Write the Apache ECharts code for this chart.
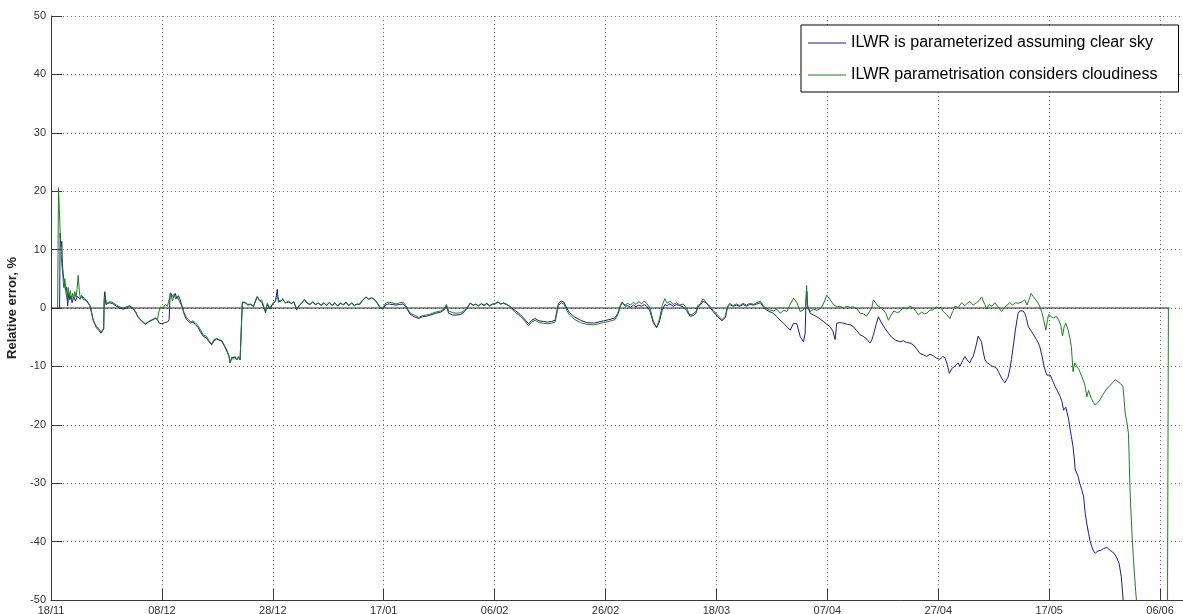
<!DOCTYPE html>
<html>
<head>
<meta charset="utf-8">
<script src="https://cdn.jsdelivr.net/npm/echarts@6/dist/echarts.min.js"></script>
<style>
  html, body { margin: 0; padding: 0; background: #fff; }
  #chart { width: 1183px; height: 614px; }
</style>
</head>
<body>
<div id="chart"></div>
<script>
// x values are days counted from 18/11; a tick every 20 days
const dateLabels = ['18/11', '08/12', '28/12', '17/01', '06/02', '26/02', '18/03', '07/04', '27/04', '17/05', '06/06'];

const seriesNames = ['ILWR is parameterized assuming clear sky', 'ILWR parametrisation considers cloudiness'];

// relative error (%) with ILWR parameterized for clear sky: [day, value]
const clearSkyErr = [
  [1.55, 0], [1.65, 12.8], [1.8, 10.5], [1.95, 11.4], [2.05, 7.6], [2.2, 5.8], [2.4, 5.6], [2.6, 3.1], [2.8, 3.6],
  [3.0, 0.4], [3.2, 2.6], [3.4, 1.4], [3.6, 2.1], [3.8, 0.9], [4.1, 1.9], [4.4, 1.2], [4.8, 2.0], [5.2, 1.5],
  [5.6, 2.0], [6.1, 1.6], [6.5, 1.1], [7.0, 0.4], [7.3, -0.8], [7.6, -2.1], [7.9, -2.8], [8.2, -3.4], [8.6, -3.8],
  [9.0, -4.3], [9.3, -4.6], [9.5, -3.6], [9.6, 1.8], [9.7, 2.8], [9.9, 0.6], [10.6, 0.9], [11.2, 0.7], [11.8, 0.3],
  [12.4, 0], [13.0, -0.2], [13.6, 0], [14.2, 0.3], [14.8, -0.1], [15.3, -0.8], [15.7, -1.6], [16.3, -2.2],
  [17.0, -2.8], [17.6, -2.4], [18.2, -2.1], [18.8, -1.8], [19.2, -2.0], [19.5, -2.6], [20.0, -2.7], [20.5, -2.5],
  [21.0, -2.4], [21.3, -2.0], [21.5, 2.6], [21.8, 2.9], [22.1, 1.8], [22.4, 2.5], [22.7, 1.6], [23.0, 2.1],
  [23.3, 1.4], [23.7, 0.0], [24.0, -1.0], [24.4, -1.9], [24.8, -2.3], [25.2, -2.6], [25.6, -2.4], [26.0, -2.8],
  [26.5, -3.3], [27.0, -4.2], [27.5, -4.9], [28.0, -5.1], [28.5, -5.8], [29.0, -6.3], [29.4, -5.6], [29.9, -5.3],
  [30.3, -5.5], [30.8, -5.7], [31.3, -6.6], [31.8, -7.6], [32.1, -8.3], [32.3, -9.4], [32.6, -8.5], [32.9, -8.8],
  [33.2, -8.4], [33.5, -8.9], [33.8, -8.4], [34.1, -8.9], [34.3, -8.7], [34.5, 0.9], [35.0, 0.9], [35.5, 0.5],
  [36.0, 0.6], [36.5, 0.3], [36.9, 1.2], [37.2, 1.9], [37.6, 1.3], [38.0, 1.0], [38.4, 0.0], [38.7, -0.8],
  [39.0, 0.6], [39.5, -0.2], [40.0, 0.7], [40.5, 1.2], [40.8, 3.2], [41.0, 1.0], [41.3, 1.3], [41.8, 1.4],
  [42.3, 0.9], [42.8, 1.0], [43.3, 0.8], [43.8, 1.0], [44.3, -0.3], [44.8, 0.5], [45.2, 0.8], [45.7, 1.4],
  [46.2, 0.8], [46.7, 0.6], [47.2, 1.1], [47.7, 0.6], [48.2, 0.8], [48.7, 0.5], [49.2, 0.9], [49.7, 0.4],
  [50.2, 0.9], [50.7, 0.5], [51.2, 0.9], [51.7, 0.3], [52.2, 0.8], [52.7, 0.6], [53.2, 1.0], [53.7, 0.4],
  [54.2, 0.9], [54.7, 0.5], [55.2, 0.6], [55.7, 0.7], [56.2, 1.4], [56.8, 1.9], [57.3, 1.5], [57.8, 1.8],
  [58.4, 1.4], [58.9, 0.7], [59.3, 0.1], [59.8, -0.2], [60.3, 0.5], [60.8, 0.7], [61.5, 0.6], [62.2, 0.5],
  [62.9, 0.6], [63.5, 0.7], [64.0, 0.2], [64.4, -0.5], [64.8, -1.1], [65.5, -1.5], [66.3, -1.8], [67.0, -1.5],
  [67.7, -1.4], [68.5, -1.2], [69.4, -0.9], [70.3, -0.7], [70.9, -0.3], [71.3, 0.4], [71.7, -0.9], [72.4, -1.2],
  [73.2, -1.2], [73.9, -1.1], [74.6, -0.6], [75.2, 0.2], [75.6, 0.8], [76.1, 0.5], [76.6, 0.6], [77.1, 0.4],
  [77.6, 0.7], [78.1, 0.5], [78.6, 0.8], [79.1, 0.4], [79.6, 0.7], [80.1, 0.7], [80.6, 1.0], [81.1, 0.7],
  [81.6, 0.8], [82.1, 0.6], [82.6, 0.4], [83.1, 0], [83.8, -0.5], [84.6, -1.1], [85.4, -1.9], [86.1, -2.7],
  [86.7, -2.1], [87.3, -1.8], [88.0, -2.2], [88.8, -2.3], [89.5, -2.4], [90.3, -2.3], [90.9, -2.1], [91.2, -0.6],
  [91.5, 0.7], [92.0, 1.2], [92.5, 1.0], [93.0, 0], [93.5, -0.8], [94.5, -1.6], [95.5, -2.1], [96.6, -2.5],
  [97.8, -2.6], [98.8, -2.4], [99.6, -2.2], [100.6, -2.0], [101.7, -1.7], [102.2, -0.9], [102.7, 0.5], [103.0, 1.0],
  [103.5, 0.3], [104.0, 0.4], [104.5, 0.1], [105.0, 0.5], [105.5, 0.2], [106.0, 0.5], [106.5, 0.3], [107.0, 0.6],
  [107.4, 0.3], [108.0, -0.5], [108.6, -2.5], [109.2, -3.4], [109.7, -2.4], [110.2, -0.4], [110.7, 0.6],
  [111.1, 0.4], [111.6, 0.7], [112.2, 0.3], [112.8, 0.6], [113.4, 0.4], [114.0, 0.2], [114.6, -0.4],
  [115.2, -1.4], [115.8, -1.3], [116.3, -0.9], [116.6, 0.1], [117.1, 0.5], [117.6, 1.2], [118.2, 0.8],
  [118.8, 0.1], [119.4, -0.6], [120.2, -1.5], [121.0, -2.2], [121.6, -1.6], [122.0, 0.1], [122.4, 0.6],
  [123.0, 0.3], [123.6, 0.5], [124.2, 0.3], [124.8, 0.6], [125.4, 0.3], [126.0, 0.6], [126.7, 0.5], [127.3, 0.7],
  [127.9, 0.9], [128.4, 0.3], [128.8, -0.2], [129.5, -0.6], [130.3, -0.9], [130.9, -1.5], [131.5, -2.1],
  [132.1, -2.6], [132.7, -3.2], [133.3, -3.8], [133.9, -2.6], [134.5, -2.7], [135.1, -4.9], [135.7, -5.8],
  [136.0, -4.3], [136.15, 1.4], [136.3, 2.8], [136.45, 0.2], [136.9, -0.9], [137.5, -1.2], [138.1, -1.5],
  [138.7, -1.9], [139.3, -2.3], [139.9, -2.8], [140.5, -3.2], [141.0, -4.0], [141.4, -5.4], [141.7, -2.6],
  [142.3, -2.5], [142.9, -2.6], [143.6, -2.8], [144.2, -2.9], [144.7, -3.2], [145.3, -3.9], [145.9, -4.6],
  [146.4, -4.8], [146.8, -5.1], [147.2, -5.4], [147.7, -6.0], [148.0, -5.5], [148.3, -4.6], [148.8, -2.8],
  [149.2, -1.5], [149.8, -2.6], [150.4, -3.5], [151.0, -4.3], [151.6, -5.0], [152.3, -5.5], [153.1, -5.8],
  [153.7, -5.6], [154.3, -5.9], [154.9, -6.0], [155.5, -6.3], [156.1, -7.0], [156.7, -7.8], [157.3, -8.0],
  [157.9, -8.3], [158.5, -7.9], [159.1, -8.2], [159.7, -8.6], [160.3, -8.8], [160.8, -8.3], [161.2, -8.5],
  [161.6, -9.6], [162.0, -11.2], [162.4, -10.4], [162.7, -10.1], [163.2, -9.8], [163.6, -9.4], [163.9, -10.0],
  [164.4, -9.0], [164.8, -8.3], [165.2, -8.9], [165.7, -9.4], [166.0, -8.7], [166.3, -8.3], [166.8, -6.5],
  [167.2, -4.8], [167.5, -5.3], [167.8, -5.8], [168.1, -7.5], [168.4, -8.8], [168.8, -9.4], [169.2, -9.6],
  [169.6, -9.9], [170.1, -10.1], [170.5, -10.3], [170.9, -11.0], [171.3, -11.8], [171.7, -12.4], [172.0, -12.8],
  [172.3, -12.5], [172.6, -11.8], [172.9, -10.5], [173.2, -8.8], [173.6, -6.0], [173.9, -3.8], [174.2, -2.0],
  [174.4, -0.9], [174.7, -0.5], [175.0, -0.3], [175.3, -0.5], [175.6, -0.9], [175.9, -1.8], [176.2, -3.1],
  [176.5, -3.6], [176.8, -4.0], [177.2, -4.6], [177.7, -5.4], [178.0, -5.9], [178.3, -6.6], [178.7, -8.2],
  [179.1, -10.1], [179.4, -11.0], [179.6, -11.5], [180.2, -11.5], [180.6, -12.4], [181.1, -13.5], [181.5, -14.2],
  [182.0, -15.2], [182.3, -16.0], [182.6, -17.5], [183.0, -17.0], [183.2, -17.2], [183.5, -19.0], [183.8, -20.9],
  [184.0, -22.0], [184.3, -23.7], [184.5, -25.5], [184.7, -27.7], [184.9, -27.4], [185.2, -28.8], [185.5, -30.0],
  [185.9, -31.2], [186.2, -32.2], [186.5, -35.2], [186.8, -37.0], [187.1, -38.6], [187.4, -40.0], [187.7, -40.9],
  [188.0, -41.6], [188.3, -42.0], [188.8, -41.6], [189.3, -41.5], [189.8, -41.2], [190.4, -41.0], [191.0, -41.5],
  [191.7, -42.0], [192.2, -42.8], [192.6, -43.7], [193.0, -46.0], [193.3, -49.5], [193.6, -53], [195.0, -57],
  [197.0, -60], [199.0, -63]
];

// relative error (%) with cloudiness taken into account: [day, value]
const cloudyErr = [
  [1.2, 0], [1.35, 20.6], [1.5, 17], [1.7, 12], [1.9, 8], [2.1, 6], [2.3, 3.5], [2.5, 5], [2.7, 2.5], [2.9, 1.5],
  [3.1, 3.5], [3.3, 1.8], [3.5, 3], [3.7, 1.2], [3.9, 2.5], [4.1, 1.5], [4.3, 2.8], [4.5, 1.8], [4.7, 3.2],
  [4.9, 5.6], [5.1, 3], [5.3, 1.5], [5.5, 2.2], [5.8, 1.5], [6.1, 1.8], [6.5, 1.2], [7.0, 0.5], [7.3, -0.6],
  [7.6, -2], [7.9, -2.6], [8.2, -3.2], [8.6, -3.5], [9.0, -4.1], [9.3, -4.3], [9.5, -3.5], [9.6, 1.5], [9.8, 2.0],
  [10.0, 0.8], [10.6, 1.1], [11.2, 0.9], [11.8, 0.5], [12.4, 0.2], [13.0, 0], [13.6, 0.2], [14.2, 0.4], [14.8, 0],
  [15.3, -0.7], [15.7, -1.5], [16.3, -2.1], [17.0, -2.7], [17.6, -2.3], [18.2, -2.0], [18.8, -1.7], [19.2, -1.9],
  [19.5, -0.5], [19.8, 0.2], [20.2, 0], [20.6, 0.6], [21.0, 0.3], [21.3, 1.5], [21.6, 2.5], [21.9, 1.2],
  [22.2, 2.4], [22.5, 1.5], [22.8, 2.0], [23.1, 1.2], [23.4, 1.4], [23.7, 0.2], [24.0, -0.8], [24.4, -1.6],
  [24.8, -2.0], [25.2, -2.4], [25.6, -2.2], [26.0, -2.5], [26.5, -3.0], [27.0, -3.8], [27.5, -4.7], [28.0, -4.8],
  [28.5, -5.6], [29.0, -6.2], [29.4, -5.4], [29.9, -5.2], [30.3, -5.4], [30.8, -5.6], [31.3, -6.4], [31.8, -7.4],
  [32.1, -8.2], [32.3, -9.4], [32.6, -8.4], [32.9, -8.8], [33.2, -8.3], [33.5, -8.9], [33.8, -8.3], [34.1, -8.8],
  [34.3, -8.6], [34.5, 1.0], [35.0, 1.0], [35.5, 0.6], [36.0, 0.7], [36.5, 0.2], [36.9, 1.4], [37.2, 2.0],
  [37.6, 1.2], [38.0, 1.4], [38.4, 0.2], [38.7, -0.5], [39.0, 0.8], [39.5, 0], [40.0, 0.8], [40.5, 1.4],
  [40.8, 2.0], [41.3, 1.0], [41.8, 1.6], [42.3, 0.8], [42.8, 1.2], [43.3, 0.7], [43.8, 1.1], [44.3, -0.2],
  [44.8, 0.4], [45.2, 0.9], [45.7, 1.5], [46.2, 0.9], [46.7, 0.6], [47.2, 1.0], [47.7, 0.5], [48.2, 0.9],
  [48.7, 0.4], [49.2, 0.8], [49.7, 0.5], [50.2, 1.0], [50.7, 0.4], [51.2, 0.8], [51.7, 0.4], [52.2, 0.9],
  [52.7, 0.5], [53.2, 0.9], [53.7, 0.5], [54.2, 0.8], [54.7, 0.4], [55.2, 0.7], [55.7, 0.6], [56.2, 1.3],
  [56.8, 1.8], [57.3, 1.5], [57.8, 1.7], [58.4, 1.4], [58.9, 0.8], [59.3, 0.2], [59.8, -0.1], [60.3, 0.8],
  [60.8, 1.0], [61.5, 0.9], [62.2, 0.7], [62.9, 0.9], [63.5, 1.0], [64.0, 0.4], [64.4, -0.3], [64.8, -0.9],
  [65.5, -1.2], [66.3, -1.6], [67.0, -1.3], [67.7, -1.2], [68.5, -1.0], [69.4, -0.7], [70.3, -0.5], [70.9, -0.2],
  [71.3, 0.6], [71.7, -0.5], [72.4, -0.8], [73.2, -0.9], [73.9, -0.8], [74.6, -0.4], [75.2, 0.3], [75.6, 0.9],
  [76.1, 0.4], [76.6, 0.7], [77.1, 0.3], [77.6, 0.8], [78.1, 0.4], [78.6, 0.7], [79.1, 0.3], [79.6, 0.6],
  [80.1, 0.8], [80.6, 1.1], [81.1, 0.6], [81.6, 0.9], [82.1, 0.7], [82.6, 0.3], [83.1, -0.2], [83.8, -0.8],
  [84.6, -1.4], [85.4, -2.2], [86.1, -3.0], [86.7, -2.4], [87.3, -2.1], [88.0, -2.5], [88.8, -2.6], [89.5, -2.7],
  [90.3, -2.6], [90.9, -2.4], [91.2, -1.0], [91.5, 0.4], [92.0, 0.9], [92.5, 0.7], [93.0, -0.4], [93.5, -1.2],
  [94.5, -2.0], [95.5, -2.5], [96.6, -2.8], [97.8, -2.9], [98.8, -2.7], [99.6, -2.5], [100.6, -2.3], [101.7, -2.0],
  [102.2, -1.2], [102.7, 0.3], [103.0, 0.9], [103.5, 0.5], [104.0, 0.8], [104.5, 0.5], [105.0, 1.0], [105.5, 0.6],
  [106.0, 1.1], [106.5, 0.7], [107.0, 1.2], [107.4, 0.8], [108.0, 0], [108.6, -2.2], [109.2, -3.3], [109.7, -2.0],
  [110.2, 0.4], [110.7, 1.6], [111.1, 0.8], [111.6, 1.2], [112.2, 0.6], [112.8, 0.9], [113.4, 0.5], [114.0, 0.7],
  [114.6, 0], [115.2, -1.2], [115.8, -1.0], [116.3, -0.6], [116.6, 0.4], [117.1, 0.7], [117.6, 1.6], [118.2, 0.9],
  [118.8, 0.3], [119.4, -0.4], [120.2, -1.2], [121.0, -2.0], [121.6, -1.4], [122.0, 0.3], [122.4, 0.8],
  [123.0, 0.4], [123.6, 0.7], [124.2, 0.4], [124.8, 0.8], [125.4, 0.5], [126.0, 0.8], [126.7, 0.6], [127.3, 0.9],
  [127.9, 1.2], [128.4, 0.5], [128.8, 0], [129.5, -0.3], [130.3, -0.5], [130.9, -0.2], [131.5, -0.9],
  [132.1, -0.4], [132.7, -0.6], [133.3, 0.6], [133.9, 1.7], [134.5, 0.9], [135.1, -0.6], [135.7, -0.3],
  [136.1, 0.2], [136.25, 3.9], [136.4, 0.5], [136.9, -0.6], [137.5, -0.2], [138.1, -0.4], [138.9, 0],
  [139.5, 1.2], [139.9, 2.2], [140.5, 1.4], [141.1, 0.6], [141.7, 0.2], [142.3, 0.3], [142.9, 0], [143.5, 0.3],
  [144.1, 0.1], [144.7, 0.2], [145.3, -0.1], [145.9, -0.9], [146.5, -1.0], [147.1, -1.4], [147.6, -0.6],
  [148.0, 0], [148.3, 1.4], [148.8, 0.7], [149.2, 0.3], [149.7, 0], [150.1, -0.3], [150.6, -1.0], [151.0, -2.1],
  [151.5, -1.2], [152.0, -0.5], [152.6, -0.8], [153.1, -0.6], [153.7, 0.1], [154.3, -0.2], [154.9, 0.3],
  [155.5, 0], [156.0, -0.6], [156.4, -1.2], [157.0, -0.7], [157.5, -1.0], [157.9, -0.9], [158.5, -0.4],
  [159.1, -0.3], [159.6, 0.2], [160.0, 0], [160.5, 0.1], [160.9, -0.6], [161.5, -1.1], [162.1, -1.8],
  [162.6, -0.6], [163.0, 0.3], [163.6, 0.1], [164.2, 0.9], [164.8, 0.4], [165.2, 0.8], [165.7, 1.1], [166.3, 0.5],
  [166.9, 0.9], [167.4, 1.3], [167.8, 1.9], [168.2, 1.0], [168.4, 0.6], [168.7, -0.2], [169.2, 0.6], [169.7, 0.3],
  [170.2, 0.9], [170.8, 0.2], [171.4, -0.6], [171.9, 0], [172.4, 0.5], [172.9, 0.9], [173.4, 0.5], [173.9, 0.9],
  [174.4, 0.8], [175.0, 1.0], [175.6, 1.4], [176.0, 0.5], [176.2, 0.3], [176.5, 1.8], [176.7, 2.5], [177.1, 2.0],
  [177.4, 1.7], [177.9, 1.0], [178.3, 0.3], [178.7, -0.8], [179.0, -2.0], [179.4, -3.8], [179.7, -2.0],
  [179.9, -1.1], [180.4, -1.5], [180.8, -1.7], [181.3, -1.4], [181.7, -2.0], [182.1, -3.0], [182.4, -4.8],
  [182.7, -3.2], [183.0, -2.6], [183.4, -3.7], [183.7, -5.0], [184.0, -6.6], [184.3, -10.9], [184.6, -9.4],
  [184.9, -9.7], [185.4, -10.6], [185.9, -11.8], [186.4, -13.0], [186.8, -15.2], [187.1, -14.1], [187.6, -15.5],
  [188.0, -16.2], [188.3, -16.6], [188.7, -16.3], [189.1, -15.8], [189.7, -14.8], [190.4, -13.8], [190.9, -13.4],
  [191.4, -12.8], [191.9, -12.3], [192.4, -12.6], [192.8, -12.9], [193.3, -13.4], [193.5, -15.5], [193.7, -18.0],
  [194.0, -19.5], [194.3, -21.5], [194.6, -31.7], [194.9, -38], [195.2, -43.2], [195.6, -48.5], [196.0, -53],
  [197.5, -57], [199.5, -60], [201.3, -62], [201.5, 0]
];

// zero reference line spanning the record
const zeroRef = [[0, 0], [201.7, 0]];

const FONT = '"Liberation Sans", Arial, sans-serif';
const gridDots = { color: '#777', width: 1, type: [1, 3] };

const chart = echarts.init(document.getElementById('chart'), null, { renderer: 'canvas' });

chart.setOption({
  animation: false,
  backgroundColor: '#ffffff',
  textStyle: { fontFamily: FONT },
  // the plot box runs past the right edge of the canvas
  grid: { left: 51, top: 16, width: 1220, height: 584, containLabel: false, outerBoundsMode: 'none' },
  legend: {
    data: seriesNames,
    orient: 'vertical',
    left: 801,
    top: 25,
    padding: [10, 21, 9, 7],
    itemGap: 16,
    itemWidth: 38,
    itemHeight: 1,
    icon: 'rect',
    backgroundColor: '#ffffff',
    borderColor: '#000000',
    borderWidth: 1,
    borderRadius: 0,
    textStyle: { fontFamily: FONT, fontSize: 16, color: '#000000' }
  },
  xAxis: {
    type: 'value',
    min: 0,
    max: 220,
    interval: 20,
    axisLine: { onZero: false, lineStyle: { color: '#3a3a3a', width: 1 } },
    axisTick: { inside: true, length: 11, lineStyle: { color: '#3a3a3a' } },
    axisLabel: {
      margin: 5,
      fontSize: 11,
      color: '#333333',
      fontFamily: FONT,
      formatter: v => dateLabels[Math.round(v / 20)] || ''
    },
    splitLine: { show: true, lineStyle: gridDots }
  },
  yAxis: {
    type: 'value',
    min: -50,
    max: 50,
    interval: 10,
    name: 'Relative error, %',
    nameLocation: 'middle',
    nameGap: 32,
    nameTextStyle: { fontFamily: FONT, fontSize: 13, fontWeight: 'bold', color: '#222222' },
    axisLine: { onZero: false, lineStyle: { color: '#3a3a3a', width: 1 } },
    axisTick: { inside: true, length: 11, lineStyle: { color: '#3a3a3a' } },
    axisLabel: { margin: 5, fontSize: 11, color: '#333333', fontFamily: FONT },
    splitLine: { show: true, lineStyle: gridDots }
  },
  series: [
    {
      name: 'zero',
      type: 'line',
      data: zeroRef,
      symbol: 'none',
      silent: true,
      lineStyle: { color: '#222222', width: 1 },
      z: 1
    },
    {
      name: seriesNames[0],
      type: 'line',
      data: clearSkyErr,
      symbol: 'none',
      clip: true,
      color: '#1c1c8c',
      lineStyle: { color: '#1c1c8c', width: 1 },
      z: 2
    },
    {
      name: seriesNames[1],
      type: 'line',
      data: cloudyErr,
      symbol: 'none',
      clip: true,
      color: '#1f7f1f',
      lineStyle: { color: '#1f7f1f', width: 1 },
      z: 3
    }
  ]
});
</script>
</body>
</html>
